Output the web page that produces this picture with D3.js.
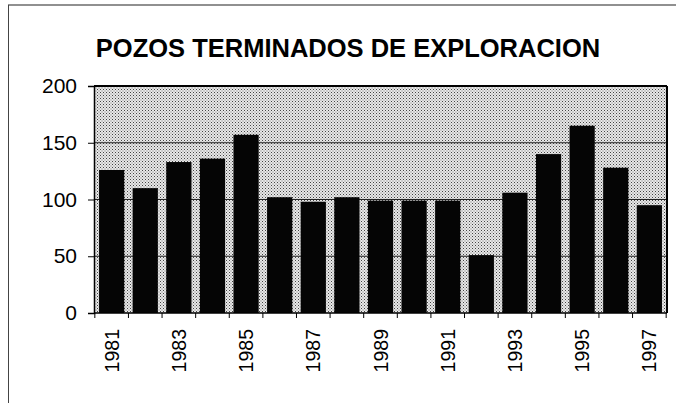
<!DOCTYPE html>
<html>
<head>
<meta charset="UTF-8">
<title>Pozos terminados de exploracion</title>
<style>
  body { margin: 0; background: #fff; }
  text { font-family: "Liberation Sans", Arial, sans-serif; fill: #000; }
</style>
</head>
<body>
<svg id="chart" width="676" height="403"></svg>
<script src="https://d3js.org/d3.v7.min.js"></script>
<script>
// data
var years = ["1981","1982","1983","1984","1985","1986","1987","1988","1989",
             "1990","1991","1992","1993","1994","1995","1996","1997"];
var wells = [126, 110, 133, 136, 157, 102, 98, 102, 99, 99, 99, 51, 106, 140, 165, 128, 95];
var yTicks = [0, 50, 100, 150, 200];
var title = "POZOS TERMINADOS DE EXPLORACION";

var svg = d3.select("#chart");

// outer frame (scanned border)
svg.append("line").attr("x1", 8).attr("x2", 676).attr("y1", 5).attr("y2", 5)
  .attr("stroke", "#222").attr("stroke-width", 1.2);
svg.append("line").attr("x1", 8.5).attr("x2", 8.5).attr("y1", 5).attr("y2", 403)
  .attr("stroke", "#444").attr("stroke-width", 1);

let margin = {top: 86, left: 94, right: 9, bottom: 90},
    width = 676 - margin.left - margin.right,
    height = 403 - margin.top - margin.bottom;

// halftone pattern for the plot area
var defs = svg.append("defs");
var pat = defs.append("pattern")
  .attr("id", "dots")
  .attr("width", 3).attr("height", 3)
  .attr("patternUnits", "userSpaceOnUse");
pat.append("rect").attr("width", 3).attr("height", 3).attr("fill", "#e8e8e8");
pat.append("rect").attr("x", 0).attr("y", 0).attr("width", 1).attr("height", 1).attr("fill", "#444");
pat.append("rect").attr("x", 1.5).attr("y", 1.5).attr("width", 1).attr("height", 1).attr("fill", "#777");

svg.append("text")
  .attr("x", 348).attr("y", 57)
  .attr("text-anchor", "middle")
  .style("font-size", "25.5px").style("font-weight", "bold")
  .text(title);

let chart = svg.append("g")
  .attr("transform", "translate(" + margin.left + "," + margin.top + ")");

let xScale = d3.scaleBand()
  .domain(years)
  .range([0, width])
  .paddingInner(0.25)
  .paddingOuter(0.15);

let yScale = d3.scaleLinear()
  .domain([0, 200])
  .range([height, 0]);

chart.append("rect")
  .attr("width", width).attr("height", height)
  .attr("fill", "url(#dots)");

// gridlines
chart.selectAll(".grid")
  .data(yTicks.filter(d => d > 0 && d < 200))
  .join("line")
  .attr("class", "grid")
  .attr("x1", 0).attr("x2", width)
  .attr("y1", d => yScale(d)).attr("y2", d => yScale(d))
  .attr("stroke", "#222").attr("stroke-width", 1.2);

// bars
chart.selectAll(".bar")
  .data(wells)
  .join("rect")
  .attr("class", "bar")
  .attr("x", (d, i) => xScale(years[i]))
  .attr("y", d => yScale(d))
  .attr("width", xScale.bandwidth())
  .attr("height", d => height - yScale(d))
  .attr("fill", "#050505");

// plot border top / right
chart.append("line").attr("x1", 0).attr("x2", width).attr("y1", 0).attr("y2", 0)
  .attr("stroke", "#000").attr("stroke-width", 2);
chart.append("line").attr("x1", width).attr("x2", width).attr("y1", 0).attr("y2", height)
  .attr("stroke", "#000").attr("stroke-width", 2);

// y axis
let yAxis = chart.append("g")
  .call(d3.axisLeft(yScale).tickValues(yTicks).tickSize(6).tickPadding(11));
yAxis.select(".domain").attr("stroke-width", 1.5);
yAxis.selectAll("text").style("font-size", "21px").attr("font-family", null);

// x axis: ticks at category boundaries, labels on odd years
let step = xScale.step();
let x0 = xScale(years[0]) - (step - xScale.bandwidth()) / 2;
let xAxis = chart.append("g").attr("transform", "translate(0," + height + ")");
xAxis.append("line").attr("x1", 0).attr("x2", width).attr("stroke", "#000").attr("stroke-width", 1.5);
xAxis.selectAll(".xt")
  .data(d3.range(years.length + 1))
  .join("line")
  .attr("class", "xt")
  .attr("x1", i => Math.min(width, Math.max(0, x0 + i * step)))
  .attr("x2", i => Math.min(width, Math.max(0, x0 + i * step)))
  .attr("y1", 0).attr("y2", 5)
  .attr("stroke", "#000");
xAxis.selectAll(".xl")
  .data(years.filter((d, i) => i % 2 === 0))
  .join("text")
  .attr("class", "xl")
  .attr("text-anchor", "end")
  .attr("transform", d => "translate(" + (xScale(d) + xScale.bandwidth() / 2 + 7) + ",16) rotate(-90)")
  .style("font-size", "19.5px")
  .text(d => d);
</script>
</body>
</html>
